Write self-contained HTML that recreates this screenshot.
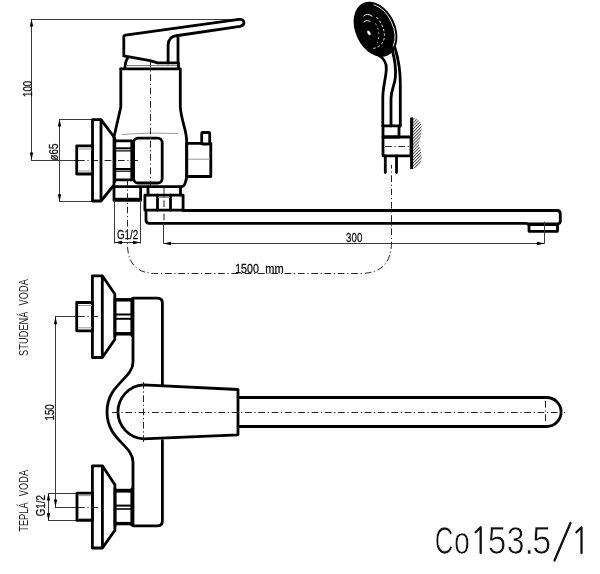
<!DOCTYPE html>
<html><head><meta charset="utf-8">
<style>
html,body{margin:0;padding:0;background:#fff;width:600px;height:574px;overflow:hidden}
svg{display:block;will-change:transform}
text{font-family:"Liberation Sans",sans-serif;fill:#111;stroke:#111;stroke-width:0.3}
.k{stroke:#000;stroke-width:2.8;fill:none;stroke-linejoin:round;stroke-linecap:round}
.kf{stroke:#000;stroke-width:2.8;fill:#fff;stroke-linejoin:round}
.d{stroke:#3a3a3a;stroke-width:1;fill:none}
.g{stroke:#999;stroke-width:1;fill:none}
.c{stroke:#222;stroke-width:1;fill:none;stroke-dasharray:6.7 2.7 1.2 2.7}
.a{fill:#000;stroke:none}
</style></head><body>
<svg width="600" height="574" viewBox="0 0 600 574">
<defs>
<pattern id="h" width="2.2" height="2.2" patternUnits="userSpaceOnUse" patternTransform="rotate(45)">
<rect width="2.2" height="2.2" fill="#fff"/><rect width="0.9" height="2.2" fill="#444"/>
</pattern>
</defs>
<!-- ===== ELEVATION VIEW ===== -->
<!-- dim 100 -->
<line class="d" x1="31" y1="19.5" x2="240" y2="19.5"/>
<line class="d" x1="31.5" y1="19" x2="31.5" y2="160"/>
<polygon class="a" points="31.5,19 29.8,26.5 33.2,26.5"/>
<polygon class="a" points="31.5,160 29.8,152.5 33.2,152.5"/>
<line class="d" x1="31" y1="160.5" x2="78" y2="160.5"/>
<line class="c" x1="78" y1="160.5" x2="138" y2="160.5"/>
<text transform="translate(32,88.9) rotate(-90) scale(0.75,1)" font-size="13" text-anchor="middle">100</text>
<!-- dim d65 -->
<line class="d" x1="59.5" y1="119" x2="59.5" y2="201.7"/>
<polygon class="a" points="59.5,119 57.8,126.5 61.2,126.5"/>
<polygon class="a" points="59.5,201.7 57.8,194.2 61.2,194.2"/>
<line class="d" x1="59" y1="119.5" x2="93" y2="119.5"/>
<line class="d" x1="59" y1="201.5" x2="93" y2="201.5"/>
<text transform="translate(58.3,152) rotate(-90) scale(0.75,1)" font-size="13" text-anchor="middle">ø65</text>
<!-- handle -->
<path class="kf" d="M123.8 37 Q123.8 35.5 125.5 35.2 L239 19.3 Q244 19 244 22.8 Q244 25.6 240 26.3 L178 35.5 V62.9 H157.6 L150 60.6 L123.8 55.9 Z"/>
<path class="k" d="M168.1 62.9 V45.4 Q168.1 36.5 177 35.5"/>
<path class="k" d="M124.9 67.6 Q125.5 61 127.5 58.3" stroke-width="2.2"/>
<line x1="127" y1="65.6" x2="178" y2="65.6" stroke="#777" stroke-width="1"/>
<line class="k" x1="178.5" y1="63" x2="178.5" y2="68"/>
<!-- body -->
<path class="k" d="M120.8 68.8 H180.3 V107 C181.5 122 186.7 130 186.7 141.7 V175 C186.7 179 185.5 182 185.5 182 Q184.5 186.7 181 186.7 H114"/>
<path class="k" d="M120.8 68.8 V107 L114 137"/>
<path class="g" d="M122 134.5 Q150 132 178 133.5"/>
<!-- flange -->
<path class="k" d="M92.5 119.7 H101 L114 137 V185 L101 201 H92.5 Z M101 119.7 V201"/>
<rect class="k" x="76.7" y="145.8" width="15.8" height="28.2"/>
<line class="g" x1="78" y1="149" x2="92" y2="149"/>
<line class="g" x1="78" y1="171" x2="92" y2="171"/>
<!-- nut -->
<path class="k" d="M114.8 138.5 V181.5" stroke-width="3"/>
<path class="k" d="M114.8 140.8 H131.8 M114.8 179.8 H131.8 M131.8 140.8 V179.8"/>
<line x1="115" y1="148.3" x2="131.8" y2="148.3" stroke="#000" stroke-width="2"/>
<line x1="115" y1="150.9" x2="131.8" y2="150.9" stroke="#000" stroke-width="1.2"/>
<line x1="115" y1="169" x2="131.8" y2="169" stroke="#000" stroke-width="2"/>
<line x1="115" y1="171.2" x2="131.8" y2="171.2" stroke="#000" stroke-width="1.2"/>
<rect class="k" x="133.6" y="138.1" width="28.6" height="44.9" rx="4.5"/>
<!-- diverter -->
<rect class="k" x="186.7" y="143.3" width="24.1" height="33.2"/>
<line class="g" x1="188" y1="159.2" x2="210" y2="159.2"/>
<rect class="kf" x="201.7" y="132.5" width="8" height="11.5" rx="1"/>
<!-- below body -->
<path class="k" d="M114 187.2 V200.4 H140.6 V187.2"/>
<line x1="114" y1="199.3" x2="140.6" y2="199.3" stroke="#000" stroke-width="3"/>
<path class="k" d="M148 187 V195 M180.5 187 V195"/>
<rect class="k" x="144.9" y="195.1" width="38.2" height="15.1"/>
<path class="k" d="M157.5 195.1 V210.2 M170.5 195.1 V210.2"/>
<line x1="158" y1="197.3" x2="170" y2="197.3" stroke="#888" stroke-width="1"/>
<!-- spout -->
<path class="k" d="M183 210.5 H557 Q560.3 210.5 560.3 213.8 V221 Q560.3 224 557 224 H529 M146 210.5 V220 Q146 223.3 149.3 223.3 H526 Q528 223.3 529 225"/>
<rect class="k" x="529" y="224.5" width="28.5" height="6.8"/>
<!-- dims 300 / G1/2 -->
<line class="d" x1="163.5" y1="223" x2="163.5" y2="243.5"/>
<line class="d" x1="544.5" y1="221.7" x2="544.5" y2="243.5"/>
<line class="d" x1="163.5" y1="243.5" x2="544.5" y2="243.5"/>
<polygon class="a" points="163.5,243.5 171,241.8 171,245.2"/>
<polygon class="a" points="544.5,243.5 537,241.8 537,245.2"/>
<text transform="translate(354.2,242) scale(0.75,1)" font-size="13" text-anchor="middle">300</text>
<line class="d" x1="114.5" y1="200" x2="114.5" y2="243.5"/>
<line class="d" x1="140.5" y1="200" x2="140.5" y2="243.5"/>
<line class="d" x1="114.5" y1="242.5" x2="140.5" y2="242.5"/>
<polygon class="a" points="114.5,242.5 122,240.8 122,244.2"/>
<polygon class="a" points="140.5,242.5 133,240.8 133,244.2"/>
<text transform="translate(127.5,239) scale(0.75,1)" font-size="13" text-anchor="middle">G1/2</text>
<!-- centerlines -->
<line class="c" x1="150.5" y1="61" x2="150.5" y2="186"/>
<line class="c" x1="164" y1="187" x2="164" y2="223"/>
<path class="c" d="M127.5 180 V244 Q127.5 273.5 156 273.5 H360 Q391.5 273.5 391.5 242 V165"/>
<text transform="translate(247,273) scale(0.82,1)" font-size="13" text-anchor="middle">1500</text>
<text transform="translate(274.5,273) scale(0.85,1)" font-size="13" text-anchor="middle">mm</text>
<!-- ===== SHOWER ===== -->
<ellipse cx="375.5" cy="29.3" rx="20" ry="29" transform="rotate(-25 375.5 29.3)" fill="#000"/>
<path d="M373.7 4.8 A17.5 26.5 -25 0 1 393.1 46.4" fill="none" stroke="#fff" stroke-width="0.9"/>
<path d="M376.5 17 Q386 28 384 39 Q381 48.5 371 48.5" fill="none" stroke="#fff" stroke-width="1" stroke-dasharray="2.4 2.2"/>
<path d="M375.5 23.5 Q381 32 377.5 43" fill="none" stroke="#eee" stroke-width="0.8" stroke-dasharray="1.8 3"/>
<path d="M363.3 16.2 Q367.5 12.5 372.4 16.5" fill="none" stroke="#fff" stroke-width="1"/>
<path d="M363.5 22 Q367 19.2 370.3 21.5" fill="none" stroke="#fff" stroke-width="0.9"/>
<ellipse cx="368.9" cy="32.9" rx="1.4" ry="2.6" transform="rotate(-30 368.9 32.9)" fill="#fff"/>
<path class="k" d="M378.8 55.4 C385 59 386.6 63 386.3 69 C386 78 383 86 382.8 97 V126"/>
<path class="k" d="M392.2 50 C395 60 396 69 395.4 77 C394.8 85 391.2 90 391 98 V126"/>
<path class="k" d="M395 48 Q400.3 65 400.3 83.6 V126"/>
<rect class="k" x="383" y="125.8" width="16" height="11.2"/>
<rect class="k" x="383" y="137" width="28" height="18.8"/>
<path class="k" d="M385.3 155.8 V172.5 M396.5 155.8 V172.5"/>
<line class="c" x1="385" y1="146.5" x2="410" y2="146.5"/>
<path d="M411.6 117.5 Q421 119 421.5 126.3 Q422 135 418.7 143.8 Q421.8 151 421.8 158.1 Q421 168 411.6 169 Z" fill="url(#h)"/>
<line x1="411.6" y1="117.5" x2="411.6" y2="169" stroke="#000" stroke-width="3"/>
<!-- ===== PLAN VIEW ===== -->
<text transform="translate(27.5,317.5) rotate(-90) scale(0.68,1)" font-size="13.5" word-spacing="5" letter-spacing="0.15" style="stroke:none;fill:#222" text-anchor="middle">STUDENÁ VODA</text>
<text transform="translate(27.5,500.8) rotate(-90) scale(0.68,1)" font-size="13.5" word-spacing="5" letter-spacing="0.15" style="stroke:none;fill:#222" text-anchor="middle">TEPLÁ VODA</text>
<text transform="translate(54.2,412.4) rotate(-90) scale(0.75,1)" font-size="13" text-anchor="middle">150</text>
<text transform="translate(45,505.7) rotate(-90) scale(0.75,1)" font-size="13" text-anchor="middle">G1/2</text>
<line class="d" x1="55.5" y1="316.7" x2="55.5" y2="507"/>
<polygon class="a" points="55.5,316.7 53.8,324.2 57.2,324.2"/>
<polygon class="a" points="55.5,507 53.8,499.5 57.2,499.5"/>
<line class="d" x1="55" y1="316.5" x2="78" y2="316.5"/>
<line class="d" x1="55" y1="507.5" x2="78" y2="507.5"/>
<line class="d" x1="48.5" y1="493" x2="48.5" y2="520.8"/>
<polygon class="a" points="48.5,493 46.8,500.5 50.2,500.5"/>
<polygon class="a" points="48.5,520.8 46.8,513.3 50.2,513.3"/>
<line class="d" x1="48" y1="493.5" x2="77" y2="493.5"/>
<line class="d" x1="48" y1="520.5" x2="77" y2="520.5"/>
<!-- upper flange -->
<path class="k" d="M92.4 275.8 H102.3 L114.8 294 V339.5 L102.3 357.5 H92.4 Z M102.3 275.8 V357.5"/>
<rect class="k" x="76.7" y="302.5" width="15.8" height="28.3"/>
<line class="g" x1="78" y1="305.5" x2="92" y2="305.5"/>
<line class="g" x1="78" y1="327.8" x2="92" y2="327.8"/>
<line class="c" x1="78" y1="316.5" x2="100" y2="316.5"/>
<path class="k" d="M115 298.5 V336 M131.8 299 V335.5" stroke-width="3"/>
<line x1="115" y1="299.8" x2="133" y2="299.8" stroke="#000" stroke-width="3.5"/>
<line x1="115" y1="314.5" x2="133" y2="314.5" stroke="#000" stroke-width="2"/>
<line x1="115" y1="318.8" x2="133" y2="318.8" stroke="#000" stroke-width="2"/>
<line x1="115" y1="333.8" x2="133" y2="333.8" stroke="#000" stroke-width="3.5"/>
<!-- lower flange -->
<path class="k" d="M92.4 465.8 H102.4 L114.9 484.8 V530.2 L102.4 548 H92.4 Z M102.4 465.8 V548"/>
<rect class="k" x="77" y="493.1" width="15.4" height="27.3"/>
<line class="g" x1="78" y1="495.6" x2="91" y2="495.6"/>
<line class="g" x1="78" y1="518.6" x2="91" y2="518.6"/>
<line class="c" x1="78" y1="507.5" x2="100" y2="507.5"/>
<path class="k" d="M115 488.5 V526.5 M131.8 489 V525" stroke-width="3"/>
<line x1="115" y1="490.7" x2="133" y2="490.7" stroke="#000" stroke-width="3.8"/>
<line x1="115" y1="505.6" x2="133" y2="505.6" stroke="#000" stroke-width="2"/>
<line x1="115" y1="509" x2="133" y2="509" stroke="#000" stroke-width="1.6"/>
<line x1="115" y1="523.6" x2="133" y2="523.6" stroke="#000" stroke-width="3.4"/>
<!-- body -->
<path class="k" d="M133 525.8 V462 C133 445 107 440 107 412 C107 384 133 379 133 362 V298.1 H157.4 Q162.4 298.1 162.4 303.1 V384.7 M162.4 440.7 V520.8 Q162.4 525.8 157.4 525.8 H133"/>
<!-- handle -->
<path class="k" d="M238 389.5 L143.3 384.9 A27 27 0 0 0 143.3 438.8 L238 434.8 Z"/>
<path class="k" d="M238 397.5 H546.6 A14.5 14.5 0 0 1 546.6 426.5 H238"/>
<line class="c" x1="112" y1="412.5" x2="565" y2="412.5"/>
<line class="c" x1="143.5" y1="382" x2="143.5" y2="442"/>
<line class="c" x1="545.5" y1="401" x2="545.5" y2="423"/>
<!-- code -->
<g font-size="38" text-anchor="middle"><text style="stroke:#fff;stroke-width:0.7" transform="translate(444,554) scale(0.68,1)">C</text><text style="stroke:#fff;stroke-width:0.7" transform="translate(462,554) scale(0.75,1)">o</text><path d="M475.6 532.3 L480.7 527.3 V553" fill="none" stroke="#111" stroke-width="2.3" stroke-linecap="round" stroke-linejoin="round"/><text style="stroke:#fff;stroke-width:0.7" transform="translate(497,554) scale(0.88,1)">5</text><text style="stroke:#fff;stroke-width:0.7" transform="translate(515.5,554) scale(0.84,1)">3</text><text style="stroke:#fff;stroke-width:0.7" transform="translate(529.2,554) scale(0.9,1)">.</text><text style="stroke:#fff;stroke-width:0.7" transform="translate(541.7,554) scale(0.9,1)">5</text><path d="M576.4 532.3 L581.5 527.3 V553" fill="none" stroke="#111" stroke-width="2.3" stroke-linecap="round" stroke-linejoin="round"/><line x1="554.5" y1="560.5" x2="570.5" y2="523" stroke="#111" stroke-width="2.3" stroke-linecap="round"/></g>
</svg>
</body></html>
